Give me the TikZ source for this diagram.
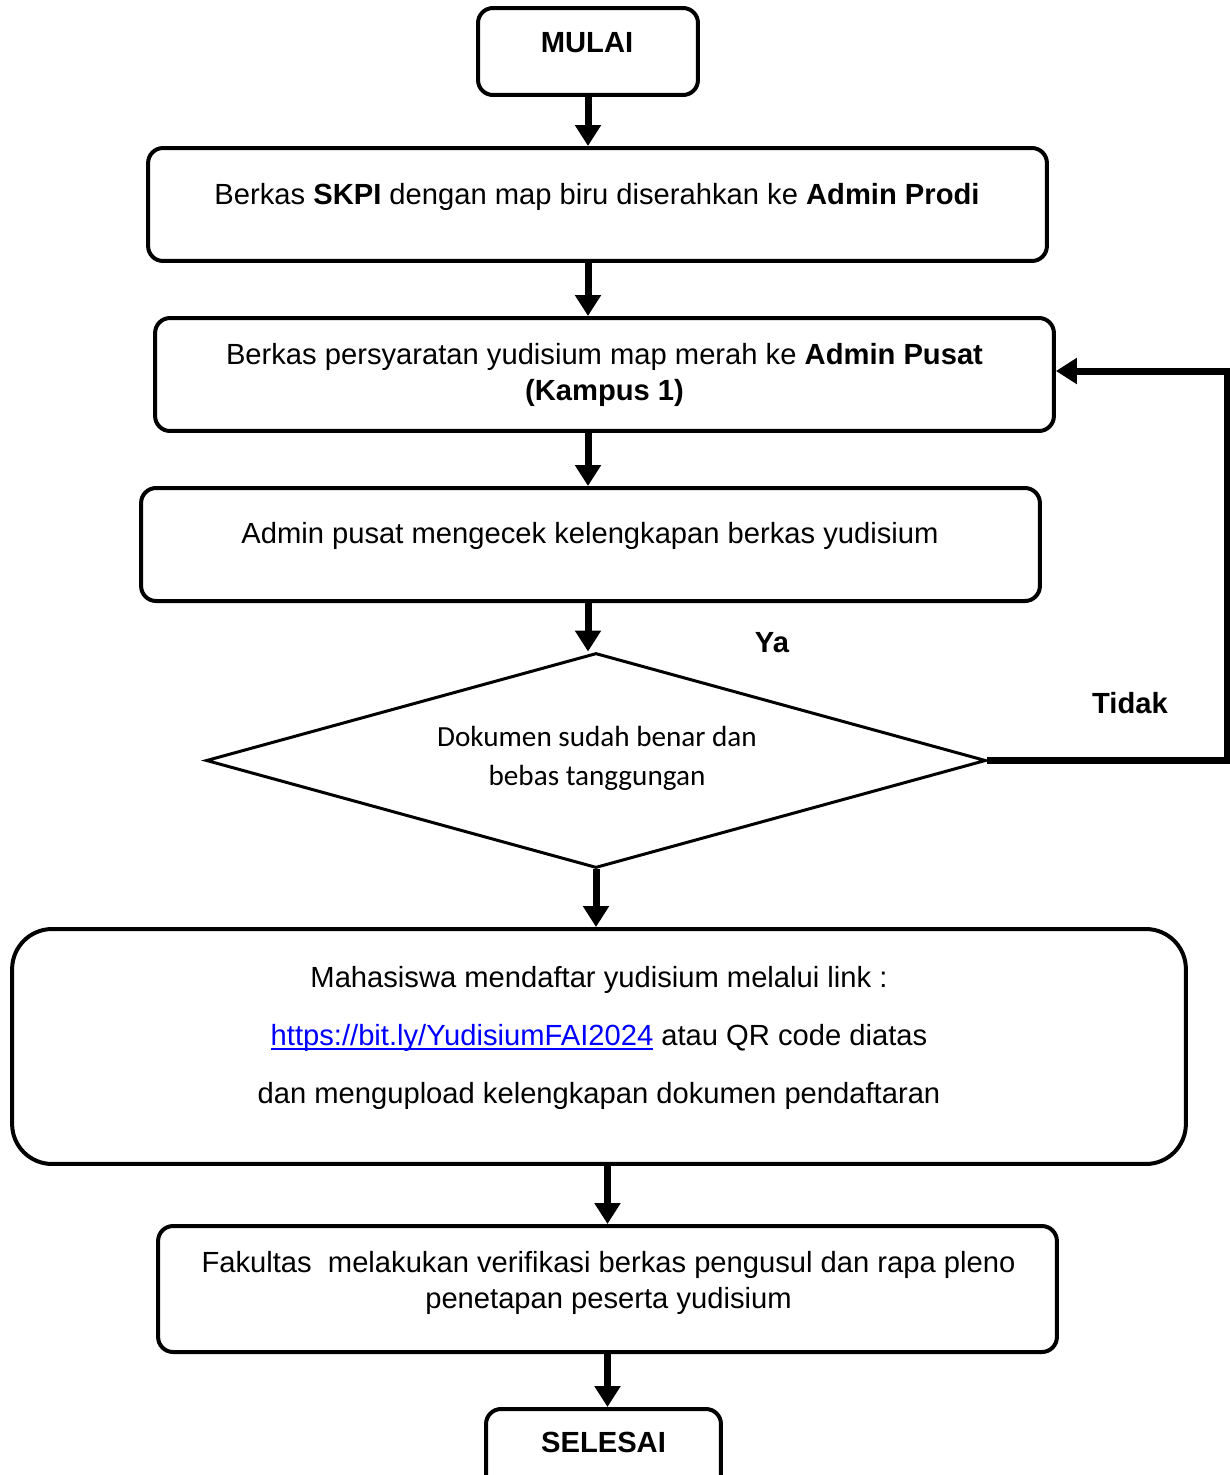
\documentclass[tikz,border=0pt]{standalone}
\usepackage{fontspec}
\setmainfont{Liberation Sans}
\newfontfamily\calibrifont{Carlito}
\usetikzlibrary{arrows.meta,shapes.geometric}
\newcommand\tautan[1]{\setbox0\hbox{#1}\rlap{\rule[-2.6pt]{\wd0}{1pt}}\box0}
\tikzset{
	kotak/.style={draw, line width=0.08cm, rounded corners=0.3cm, minimum width=17.98cm, minimum height=2.26cm, inner sep=0pt},
	teks/.style={font=\fontsize{16.6}{20.5}\selectfont, align=center, inner sep=0pt},
	panah/.style={line width=0.14cm, -{Triangle[width=0.5cm,length=0.42cm]}},
}

\begin{document}
\begin{tikzpicture}[x=0.02cm,y=-0.02cm]
			%%%%% START %%%%%
			\useasboundingbox (0,0) rectangle (1230,1475);
			
			% kotak-kotak
			\node[kotak, minimum width=4.4cm, minimum height=1.74cm] (mulai) at (588,51.5) {};
			\node[teks, font=\fontsize{16.6}{20.5}\selectfont\bfseries] (mulaiT) at (587,43) {MULAI};
			
			\node[kotak] (b2) at (597.5,204.5) {};
			\node[teks] (b2T) at (597,197) {Berkas \textbf{SKPI} dengan map biru diserahkan ke \textbf{Admin Prodi}};
			
			\node[kotak] (b3) at (604.5,374.5) {};
			\node[teks] (b3T) at (604.5,375) {Berkas persyaratan yudisium map merah ke \textbf{Admin Pusat}\\\textbf{(Kampus 1)}};
			
			\node[kotak] (b4) at (590.5,544.5) {};
			\node[teks] (b4T) at (590,536) {Admin pusat mengecek kelengkapan berkas yudisium};
			
			\node[draw, diamond, line width=0.06cm, shape aspect=3.6, minimum width=15.6cm, minimum height=4.3cm, inner sep=0pt] (dia) at (596,760.5) {};
			\node[teks, font=\calibrifont\fontsize{16.6}{22.1}\selectfont] (diaT) at (597,758) {Dokumen sudah benar dan\\bebas tanggungan};
			
			\node[kotak, rounded corners=0.8cm, minimum width=23.48cm, minimum height=4.7cm] (b5) at (599,1046.5) {};
			\node[teks, font=\fontsize{16.6}{32.9}\selectfont] (b5T) at (599,1038) {Mahasiswa mendaftar yudisium melalui link :\\{\color{blue}\tautan{https://bit.ly/YudisiumFAI2024}} atau QR code diatas\\dan mengupload kelengkapan dokumen pendaftaran};
			
			\node[kotak, minimum height=2.52cm] (b6) at (607.5,1289) {};
			\node[teks] (b6T) at (608.5,1283) {Fakultas\ \ melakukan verifikasi berkas pengusul dan rapa pleno\\penetapan peserta yudisium};
			
			\node[kotak, minimum width=4.7cm, minimum height=1.74cm] (selesai) at (603.5,1452.5) {};
			\node[teks, font=\fontsize{16.6}{20.5}\selectfont\bfseries] (selesaiT) at (603.5,1442) {SELESAI};
			
			% label cabang
			\node[teks, font=\fontsize{16.6}{20.5}\selectfont\bfseries] (ya) at (772,643) {Ya};
			\node[teks, font=\fontsize{16.6}{20.5}\selectfont\bfseries] (tidak) at (1130,703) {Tidak};
			
			% panah
			\draw[panah] (mulai.south) -- (mulai.south |- b2.north);
			\draw[panah] (b2.south -| mulai.south) -- (b3.north -| mulai.south);
			\draw[panah] (b3.south -| mulai.south) -- (b4.north -| mulai.south);
			\draw[panah] (b4.south -| mulai.south) -- (dia.north -| mulai.south);
			\draw[panah] (dia.south) -- (dia.south |- b5.north);
			\draw[panah] (b5.south -| b6.north) -- (b6.north);
			\draw[panah] (b6.south) -- (b6.south |- selesai.north);
			
			\coordinate (belok) at (1227,760.5);
			\draw[panah] (dia.east) -- (belok) |- ([yshift=0.07cm]b3.east);
			
			%%%%% END %%%%%
\end{tikzpicture}
\end{document}
